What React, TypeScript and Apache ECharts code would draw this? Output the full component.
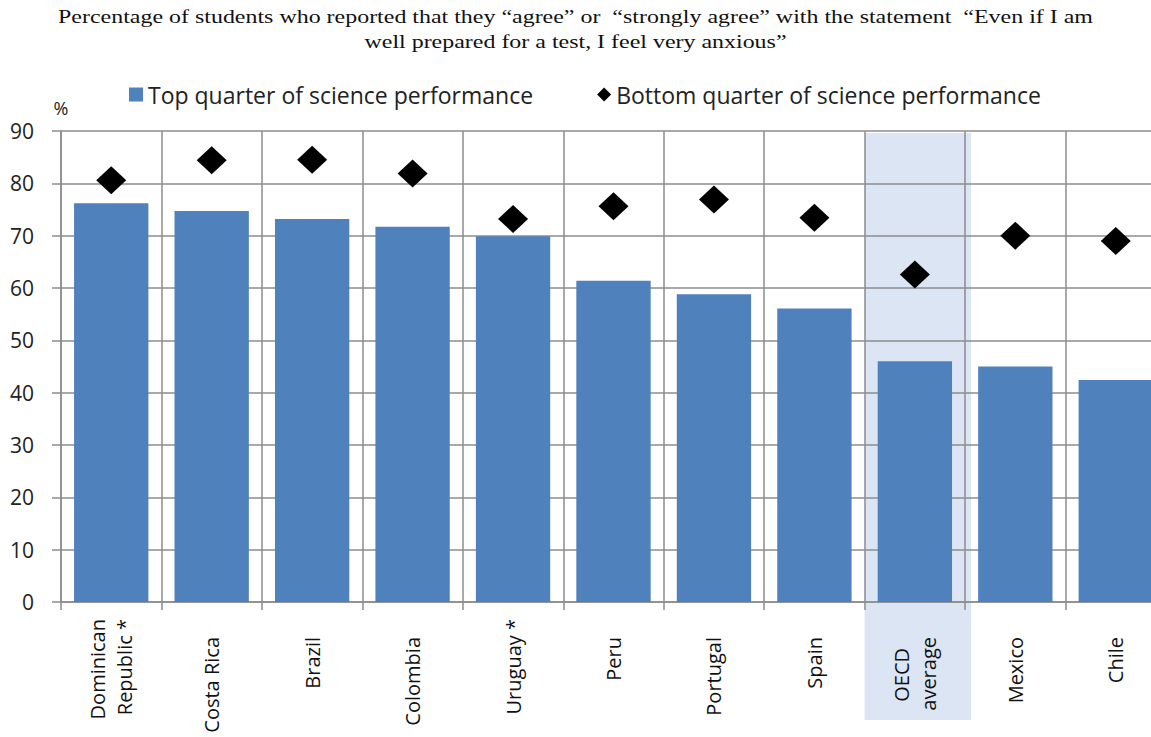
import React, { useEffect, useRef } from "react";
import * as echarts from "echarts";

const titleText =
  "Percentage of students who reported that they \u201cagree\u201d or  \u201cstrongly agree\u201d with the statement  \u201cEven if I am\nwell prepared for a test, I feel very anxious\u201d";
const categories = [
  "Dominican\nRepublic *",
  "Costa Rica",
  "Brazil",
  "Colombia",
  "Uruguay *",
  "Peru",
  "Portugal",
  "Spain",
  "OECD\naverage",
  "Mexico",
  "Chile",
];
const topQuarter = [76.2, 74.7, 73.2, 71.7, 69.9, 61.4, 58.8, 56.1, 46.0, 45.0, 42.4];
const bottomQuarter = [80.6, 84.4, 84.5, 81.9, 73.2, 75.6, 76.9, 73.4, 62.6, 70.0, 69.0];
const seriesNames = ["Top quarter of science performance", "Bottom quarter of science performance"];
const highlightCategory = "OECD\naverage";

const FONT = "'Open Sans', sans-serif";
const GRID_COLOR = "#8c8c8c";

export default function App() {
  const ref = useRef<HTMLDivElement>(null);
  useEffect(() => {
    if (!ref.current) return;
    const chart = echarts.init(ref.current, undefined, { renderer: "svg" });
    const xData = categories.map((c) => {
      const hasStar = c.indexOf("*") >= 0;
      return hasStar ? { value: c } : { value: c, textStyle: { padding: [0, 18, 0, 0] } };
    });
    chart.setOption({
      animation: false,
      backgroundColor: "#ffffff",
      legend: {
        left: 124,
        top: 78,
        itemWidth: 14,
        itemHeight: 14,
        itemGap: 64,
        textStyle: { fontFamily: FONT, fontSize: 23, color: "#222" },
        data: [
          { name: seriesNames[0], icon: "rect" },
          { name: seriesNames[1], icon: "diamond" },
        ],
      },
      grid: { left: 61, top: 131, bottom: 135, width: 1105 },
      xAxis: {
        type: "category",
        data: xData,
        axisLine: { show: true, lineStyle: { color: GRID_COLOR, width: 1.5 } },
        axisTick: { show: true, length: 8, lineStyle: { color: GRID_COLOR, width: 1.5 } },
        splitLine: { show: true, lineStyle: { color: GRID_COLOR, width: 1.5 } },
        axisLabel: {
          rotate: 90,
          interval: 0,
          margin: 17,
          fontFamily: FONT,
          fontSize: 20,
          lineHeight: 27,
          color: "#111",
          rich: {
            oecd: { fontFamily: FONT, fontSize: 20, lineHeight: 27, color: "#111", padding: [0, 11, 0, 0] },
            avg: { fontFamily: FONT, fontSize: 20, lineHeight: 27, color: "#111" },
          },
          formatter: (v: string) => {
            if (v === highlightCategory) {
              const [a, b] = v.split("\n");
              return "{oecd|" + a + "}\n{avg|" + b + "}";
            }
            return v;
          },
        },
      },
      yAxis: {
        type: "value",
        min: 0,
        max: 90,
        interval: 10,
        name: "%",
        nameLocation: "end",
        nameGap: 14,
        nameTextStyle: { fontFamily: FONT, fontSize: 18, color: "#222", align: "center" },
        axisLine: { show: true, lineStyle: { color: GRID_COLOR, width: 1.5 } },
        axisTick: { show: true, length: 9, lineStyle: { color: GRID_COLOR, width: 1.5 } },
        splitLine: { show: true, lineStyle: { color: GRID_COLOR, width: 1.5 } },
        axisLabel: { margin: 27, fontFamily: FONT, fontSize: 21, color: "#222" },
      },
      series: [
        {
          name: seriesNames[0],
          type: "bar",
          data: topQuarter,
          barWidth: "74%",
          itemStyle: { color: "#4f81bd" },
          z: 2,
        },
        {
          name: seriesNames[1],
          type: "scatter",
          data: bottomQuarter,
          symbol: "diamond",
          symbolSize: [30, 28],
          itemStyle: { color: "#000000", opacity: 1 },
          z: 3,
        },
      ],
    });

    const idx = categories.indexOf(highlightCategory);
    const center = chart.convertToPixel({ xAxisIndex: 0 }, idx) as number;
    const c0 = chart.convertToPixel({ xAxisIndex: 0 }, 0) as number;
    const c1 = chart.convertToPixel({ xAxisIndex: 0 }, 1) as number;
    const band = c1 - c0;
    const yTop = chart.convertToPixel({ yAxisIndex: 0 }, 90) as number;
    chart.setOption({
      graphic: {
        elements: [
          {
            type: "rect",
            z: -100,
            silent: true,
            shape: { x: center - band / 2, y: yTop + 2, width: band + 6, height: 720 - yTop - 2 },
            style: { fill: "#dbe5f3" },
          },
          {
            type: "text",
            x: 575.5,
            y: 4,
            scaleX: 1.26,
            silent: true,
            style: {
              text: titleText,
              fontFamily: "'Liberation Serif', 'Times New Roman', serif",
              fontSize: 19,
              lineHeight: 25,
              fill: "#111",
              textAlign: "center",
              textVerticalAlign: "top",
            },
          },
        ],
      },
    });
    return () => chart.dispose();
  }, []);
  return (
    <div style={{ position: "absolute", left: 0, top: 0, width: 1151, height: 737, overflow: "hidden" }}>
      <div ref={ref} style={{ width: 1185, height: 737 }} />
    </div>
  );
}
